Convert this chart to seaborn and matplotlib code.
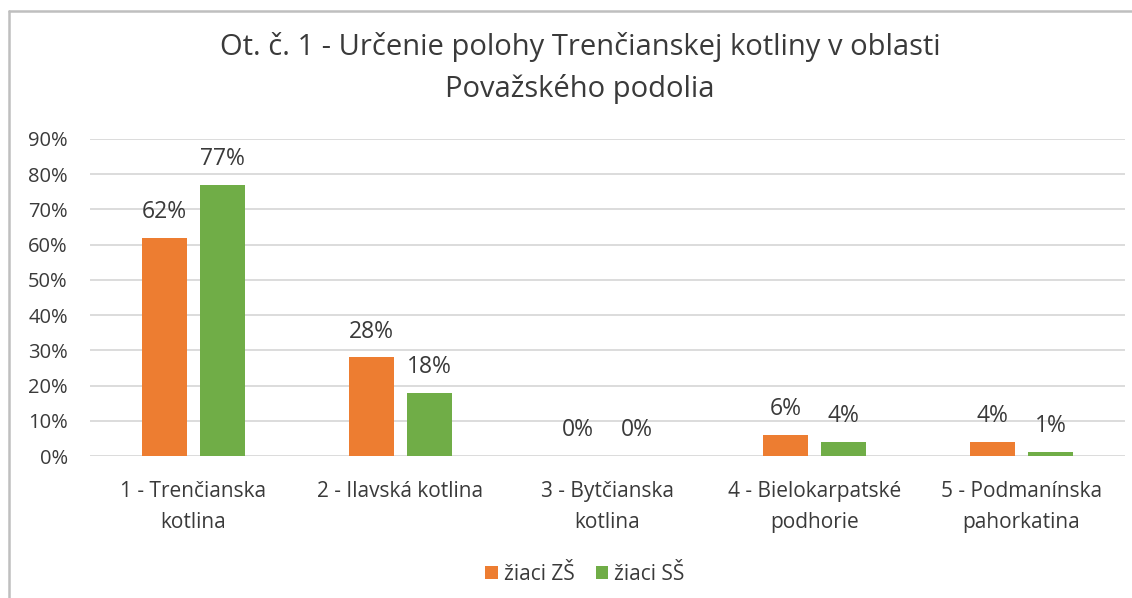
import matplotlib
matplotlib.use("Agg")
import matplotlib.pyplot as plt
import seaborn as sns
import pandas as pd

categories = ["1 - Trenčianska\nkotlina", "2 - Ilavská kotlina", "3 - Bytčianska\nkotlina",
              "4 - Bielokarpatské\npodhorie", "5 - Podmanínska\npahorkatina"]
series_names = ["žiaci ZŠ", "žiaci SŠ"]
values_zs = [0.62, 0.28, 0.00, 0.06, 0.04]
values_ss = [0.77, 0.18, 0.00, 0.04, 0.012]
label_zs = ["62%", "28%", "0%", "6%", "4%"]
label_ss = ["77%", "18%", "0%", "4%", "1%"]
yticks = [0, 0.1, 0.2, 0.3, 0.4, 0.5, 0.6, 0.7, 0.8, 0.9]
ytick_labels = ["0%", "10%", "20%", "30%", "40%", "50%", "60%", "70%", "80%", "90%"]
title = "Ot. č. 1 - Určenie polohy Trenčianskej kotliny v oblasti\nPovažského podolia"
colors = ["#ED7D31", "#70AD47"]

sns.set_theme(style="white")
plt.rcParams['font.family'] = ['Open Sans', 'DejaVu Sans']
TXT = "#3A3A3A"

df = pd.DataFrame({
    "cat": categories * 2,
    "series": [series_names[0]] * 5 + [series_names[1]] * 5,
    "val": values_zs + values_ss,
})

fig = plt.figure(figsize=(11.32, 5.98), dpi=100)
W, H = 1132, 598
ax = fig.add_axes([90 / W, 1 - 456 / H, (1125 - 90) / W, (456 - 139) / H])

sns.barplot(data=df, x="cat", y="val", hue="series", palette=colors, saturation=1,
            width=0.564, gap=0.23, errorbar=None, linewidth=0, ax=ax,
            order=categories, hue_order=series_names)

ax.set_ylim(0, 0.9)
ax.set_xlim(-0.5, 4.5)
ax.set_yticks(yticks)
ax.set_yticklabels(ytick_labels)
ax.yaxis.grid(True, color="#D9D9D9", linewidth=1.3)
ax.set_axisbelow(True)
for s in ax.spines.values():
    s.set_visible(False)
ax.tick_params(axis="y", length=0, pad=16, labelsize=14.5, labelcolor=TXT)
ax.tick_params(axis="x", length=0, pad=18, labelsize=15, labelcolor=TXT)
for t in ax.get_xticklabels():
    t.set_linespacing(1.65)
ax.set_xlabel("")
ax.set_ylabel("")

labels_all = [label_zs, label_ss]
for cont, labs in zip(ax.containers, labels_all):
    for rect, lab in zip(cont.patches, labs):
        xc = rect.get_x() + rect.get_width() / 2
        ax.annotate(lab, (xc, rect.get_height()), xytext=(0, 18.5),
                    textcoords="offset points", ha="center", va="center",
                    fontsize=16.5, color=TXT)

handles, labs = ax.get_legend_handles_labels()
if ax.legend_ is not None:
    ax.legend_.remove()
fig.legend(handles, labs, loc="center", bbox_to_anchor=(585 / W, 1 - 574 / H),
           ncol=2, frameon=False, fontsize=15, handlelength=0.6, handleheight=0.6,
           handletextpad=0.3, columnspacing=1.0, labelcolor=TXT)

fig.text(580 / W, 1 - 68 / H, title, ha="center", va="center",
         fontsize=21, color=TXT, linespacing=1.5)

# chart area frame (left and top edges visible)
fig.add_artist(plt.Line2D([8.5 / W, 8.5 / W], [0, 1 - 10.5 / H], color="#BFBFBF", lw=1.8))
fig.add_artist(plt.Line2D([8.5 / W, 1], [1 - 10.5 / H, 1 - 10.5 / H], color="#BFBFBF", lw=1.8))

fig.savefig("out.png", dpi=100, facecolor="white")
